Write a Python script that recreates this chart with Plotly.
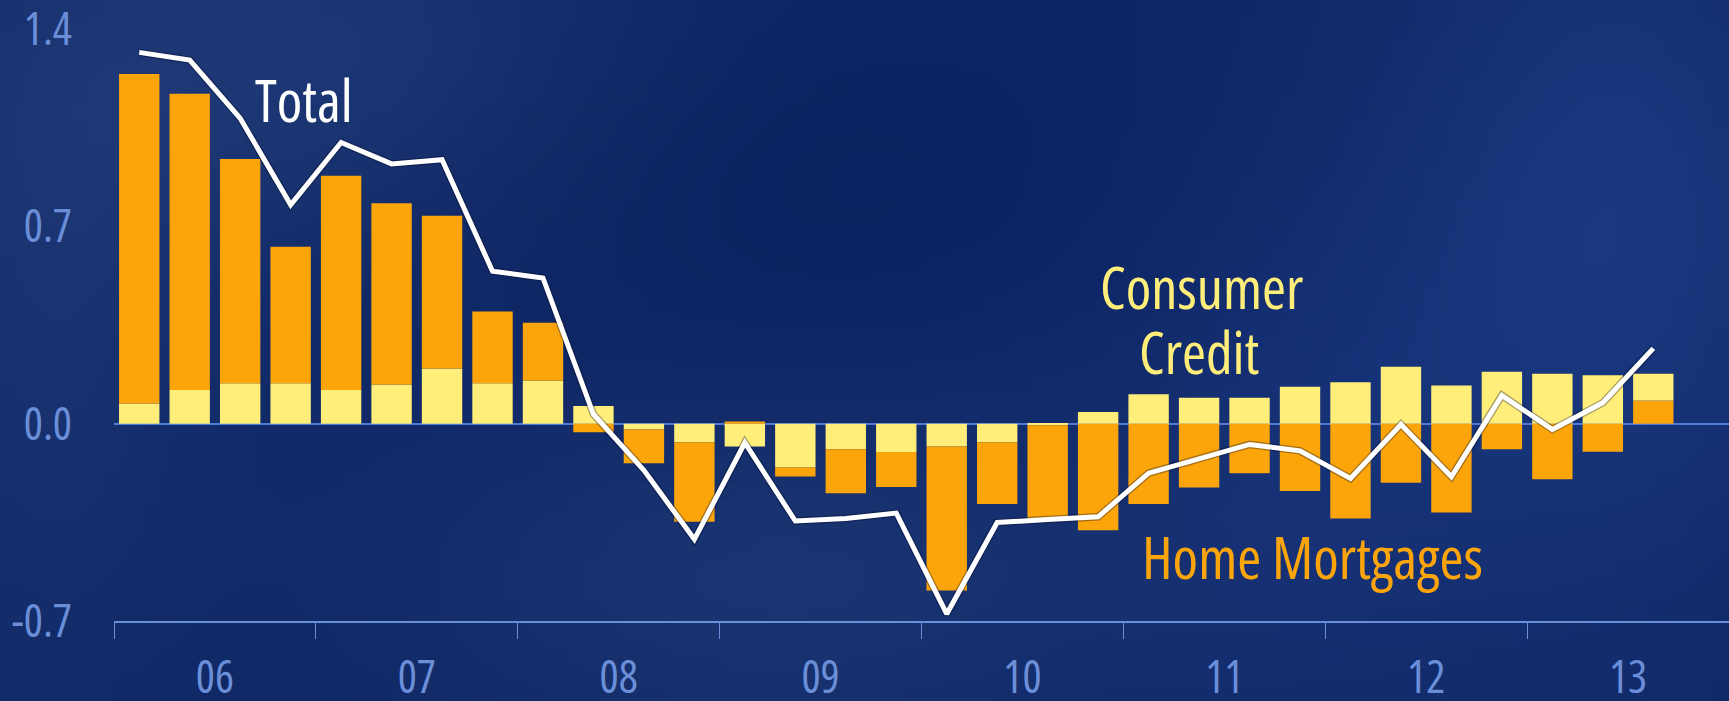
import base64, struct, zlib
import numpy as np
import plotly.graph_objects as go

# ---------------- data ----------------
quarters = ["2006Q1", "2006Q2", "2006Q3", "2006Q4",
            "2007Q1", "2007Q2", "2007Q3", "2007Q4",
            "2008Q1", "2008Q2", "2008Q3", "2008Q4",
            "2009Q1", "2009Q2", "2009Q3", "2009Q4",
            "2010Q1", "2010Q2", "2010Q3", "2010Q4",
            "2011Q1", "2011Q2", "2011Q3", "2011Q4",
            "2012Q1", "2012Q2", "2012Q3", "2012Q4",
            "2013Q1", "2013Q2", "2013Q3"]

consumer_credit = [0.072, 0.120, 0.144, 0.144, 0.120, 0.140, 0.197, 0.144,
                   0.154, 0.063, -0.020, -0.065, -0.080, -0.155, -0.090, -0.100,
                   -0.080, -0.065, -0.005, 0.042, 0.105, 0.093, 0.093, 0.132,
                   0.148, 0.203, 0.136, 0.185, 0.178, 0.173, 0.095]

home_mortgages = [1.170, 1.052, 0.796, 0.485, 0.761, 0.643, 0.542, 0.255,
                  0.205, -0.030, -0.120, -0.283, 0.008, -0.032, -0.156, -0.124,
                  -0.512, -0.220, -0.330, -0.378, -0.285, -0.226, -0.175, -0.238,
                  -0.336, -0.209, -0.315, -0.090, -0.197, -0.099, 0.083]

total = [1.319, 1.292, 1.085, 0.778, 0.999, 0.923, 0.938, 0.542,
         0.518, 0.034, -0.165, -0.410, -0.067, -0.345, -0.336, -0.317,
         -0.675, -0.350, -0.340, -0.330, -0.175, -0.123, -0.073, -0.096,
         -0.194, -0.002, -0.188, 0.101, -0.020, 0.075, 0.268]

# quarters where the mortgage segment sits beneath the consumer-credit segment
mortgage_first = ["2013Q3"]

year_labels = ["06", "07", "08", "09", "10", "11", "12", "13"]
y_tick_values = [-0.7, 0.0, 0.7, 1.4]
y_tick_text = ["-0.7", "0.0", "0.7", "1.4"]

# ---------------- background gradient image ----------------
W, H = 1729, 701
gw, gh = 175, 72
xs = np.linspace(0, W, gw)[None, :]
ys = np.linspace(0, H, gh)[:, None]
base = np.array([14, 38, 100], dtype=float)
img = np.zeros((gh, gw, 3)) + base

def blob(cx, cy, rx, ry, col, strength):
    d = ((xs - cx) / rx) ** 2 + ((ys - cy) / ry) ** 2
    w = np.exp(-d) * strength
    return w[..., None] * (np.array(col, dtype=float) - base)

img += blob(300, 60, 380, 220, [34, 60, 122], 0.8)
img += blob(40, 350, 160, 350, [30, 56, 118], 0.6)
img += blob(780, 580, 420, 200, [32, 58, 120], 0.7)
img += blob(1620, 220, 260, 420, [28, 60, 132], 0.8)
img += blob(1300, 450, 220, 300, [24, 52, 125], 0.5)
img += blob(720, 170, 380, 200, [6, 30, 90], 0.7)
img = np.clip(img, 0, 255).astype(np.uint8)

def to_png(arr):
    h, w, _ = arr.shape
    raw = b"".join(b"\x00" + arr[r].tobytes() for r in range(h))
    def chunk(t, d):
        c = struct.pack(">I", len(d)) + t + d
        return c + struct.pack(">I", zlib.crc32(t + d) & 0xffffffff)
    return (b"\x89PNG\r\n\x1a\n" + chunk(b"IHDR", struct.pack(">IIBBBBB", w, h, 8, 2, 0, 0, 0))
            + chunk(b"IDAT", zlib.compress(raw, 9)) + chunk(b"IEND", b""))

bg_uri = "data:image/png;base64," + base64.b64encode(to_png(img)).decode()

# ---------------- figure ----------------
idx = list(range(len(quarters)))
lead_m = [m if q in mortgage_first else None for q, m in zip(quarters, home_mortgages)]
rest_m = [None if q in mortgage_first else m for q, m in zip(quarters, home_mortgages)]

ORANGE = "#FCA50A"
YELLOW = "#FFEE7A"
LBLUE = "#6A8FD8"
FONT = "Open Sans, sans-serif"

def cond(t, stretch="condensed"):
    return f"<span style='font-stretch:{stretch}'>{t}</span>"

fig = go.Figure()
fig.add_trace(go.Bar(x=idx, y=lead_m, marker=dict(color=ORANGE, line_width=0),
                     hoverinfo="skip", showlegend=False))
fig.add_trace(go.Bar(x=idx, y=consumer_credit, marker=dict(color=YELLOW, line_width=0),
                     name="Consumer Credit", showlegend=False))
fig.add_trace(go.Bar(x=idx, y=rest_m, marker=dict(color=ORANGE, line_width=0),
                     name="Home Mortgages", showlegend=False))
fig.add_trace(go.Scatter(x=idx, y=total, mode="lines",
                         line=dict(color="rgba(0,10,40,0.35)", width=7.5),
                         hoverinfo="skip", showlegend=False))
fig.add_trace(go.Scatter(x=idx, y=total, mode="lines",
                         line=dict(color="white", width=5),
                         name="Total", showlegend=False))

L, B = 114, 80
PW, PH = W - L, H - B

def px(xp):
    return (xp - L) / PW

def py(yp):
    return (H - B - yp) / PH

def label(text, x, y, color, size=58):
    fig.add_annotation(text=cond(text, "semi-condensed"), x=px(x), y=py(y),
                       xref="paper", yref="paper", xanchor="center", yanchor="middle",
                       showarrow=False, font=dict(family=FONT, size=size, color=color))

label("Total", 304, 99, "white")
label("Consumer", 1201, 286, YELLOW)
label("Credit", 1199, 351, YELLOW)
label("Home Mortgages", 1312, 556, ORANGE)

fig.add_layout_image(dict(source=bg_uri, xref="paper", yref="paper",
                          x=-L / PW, y=1.0, sizex=W / PW, sizey=H / PH,
                          xanchor="left", yanchor="top", sizing="stretch", layer="below"))

year_centers = [4 * k + 1.5 for k in range(len(year_labels))]
year_bounds = [4 * k - 0.5 for k in range(len(year_labels) + 1)]

fig.update_layout(
    template="none",
    width=W, height=H,
    margin=dict(l=L, r=0, t=0, b=B, pad=0),
    barmode="relative", bargap=0.2,
    paper_bgcolor="#0E2664", plot_bgcolor="rgba(0,0,0,0)",
    font=dict(family=FONT, color=LBLUE),
    showlegend=False,
    xaxis=dict(range=[-0.5, 31.5], tickmode="array", tickvals=year_centers,
               ticktext=[cond(t) for t in year_labels], ticks="outside", ticklen=0,
               ticklabelstandoff=16, automargin=False, ticklabeloverflow="allow",
               tickfont=dict(family=FONT, size=45, color=LBLUE),
               showgrid=False, zeroline=False, showline=True,
               linecolor=LBLUE, linewidth=2,
               minor=dict(tickmode="array", tickvals=year_bounds, ticks="outside",
                          ticklen=16, tickcolor=LBLUE, tickwidth=1, showgrid=False)),
    yaxis=dict(range=[-0.7, 1.505], tickmode="array", tickvals=y_tick_values,
               ticktext=[cond(t) for t in y_tick_text], ticks="outside", ticklen=0,
               ticklabelstandoff=32, automargin=False, ticklabeloverflow="allow",
               tickfont=dict(family=FONT, size=45, color=LBLUE),
               showgrid=False, zeroline=True, zerolinecolor="#4F7BD6",
               zerolinewidth=1.5, showline=False),
)

fig.write_html("out.html")
